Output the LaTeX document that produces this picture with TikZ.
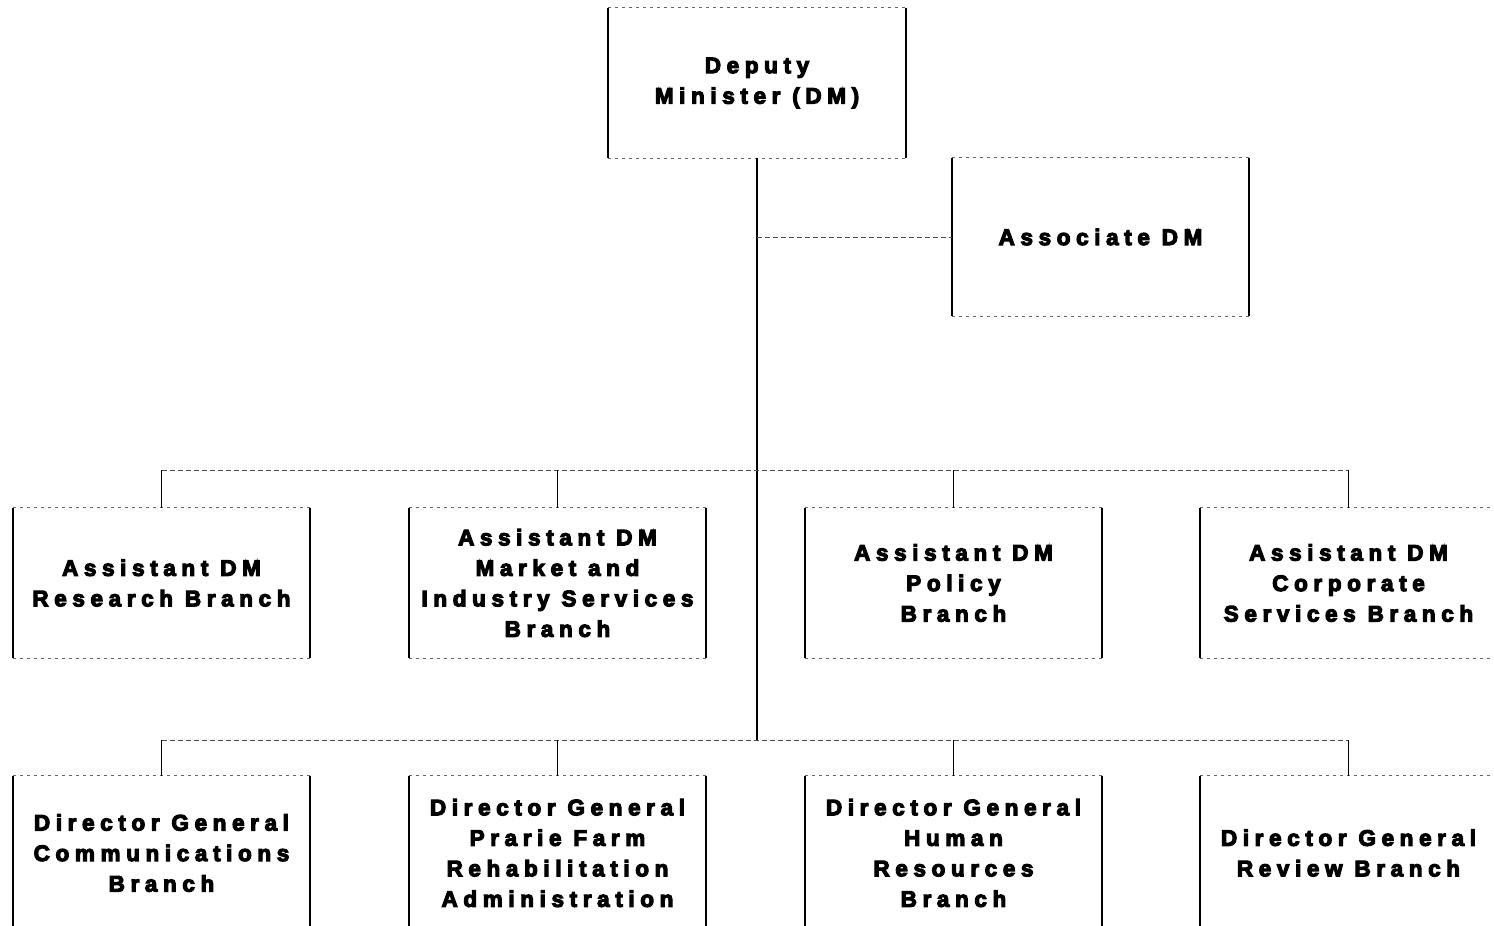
\documentclass[tikz,border=0pt]{standalone}
\usepackage{fontspec}
\newfontfamily\orgfont[LetterSpace=25,FakeBold=5]{Liberation Sans}
\begin{document}
\begin{tikzpicture}[x=1pt,y=-1pt,
  orgbox/.style={minimum width=297pt,minimum height=150pt,inner sep=0pt,align=center,
    font=\orgfont\bfseries\fontsize{22.5}{30.5}\selectfont},
  side/.style={line width=1.8pt,black},
  edge/.style={line width=0.9pt,black!60,dash pattern=on 3pt off 4pt},
  conn/.style={line width=1.8pt,black},
  bus/.style={line width=0.9pt,black!70,dash pattern=on 5pt off 3pt}]
\useasboundingbox (0,0) rectangle (1494,926);
% boxes
\node[orgbox] (dm) at (757,83) {Deputy\\Minister (DM)};
\node[orgbox,minimum height=158pt] (assoc) at (1100.5,237) {Associate DM};
\node[orgbox] (a1) at (161.5,583) {Assistant DM\\Research Branch};
\node[orgbox] (a2) at (557.5,583) {Assistant DM\\Market and\\Industry Services\\Branch};
\node[orgbox] (a3) at (953.5,583) {Assistant DM\\Policy\\Branch};
\node[orgbox] (a4) at (1348.5,583) {Assistant DM\\Corporate\\Services Branch};
\node[orgbox,minimum height=154pt] (d1) at (161.5,853) {Director General\\Communications\\Branch};
\node[orgbox,minimum height=154pt] (d2) at (557.5,853) {Director General\\Prarie Farm\\Rehabilitation\\Administration};
\node[orgbox,minimum height=154pt] (d3) at (953.5,853) {Director General\\Human\\Resources\\Branch};
\node[orgbox,minimum height=154pt] (d4) at (1348.5,853) {Director General\\Review Branch};
% box borders
\foreach \n in {dm,assoc,a1,a2,a3,a4,d1,d2,d3,d4}{
  \draw[side] (\n.north west) -- (\n.south west);
  \draw[side] (\n.north east) -- (\n.south east);
  \draw[edge] (\n.north west) -- (\n.north east);
  \draw[edge] (\n.south west) -- (\n.south east);
}
% connectors
\coordinate (trunkend) at (757,740);
\coordinate (jassoc) at (757,237);
\coordinate (b2) at (757,470);
\draw[conn] (dm.south) -- (trunkend);
\draw[bus] (jassoc) -- (assoc.west);
\draw[bus] (a1.north |- b2) -- (a4.north |- b2);
\draw[bus] (d1.north |- trunkend) -- (d4.north |- trunkend);
\foreach \n in {a1,a2,a3,a4}{
  \draw[conn] (\n.north |- b2) -- (\n.north);
}
\foreach \n in {d1,d2,d3,d4}{
  \draw[conn] (\n.north |- trunkend) -- (\n.north);
}
\end{tikzpicture}
\end{document}
